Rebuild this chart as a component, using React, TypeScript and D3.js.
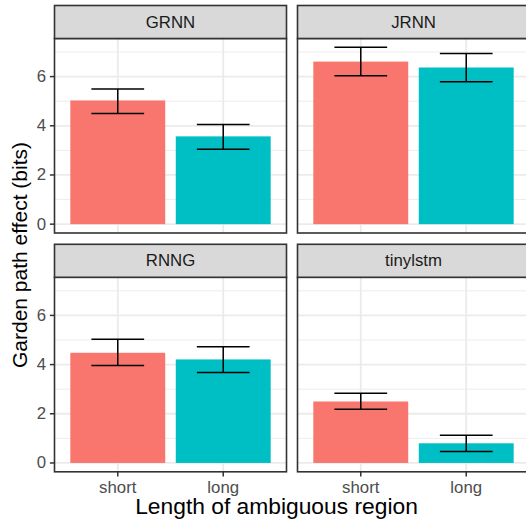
import React from "react";
import * as d3 from "d3";

const models = ["GRNN", "JRNN", "RNNG", "tinylstm"];
const conditions = ["short", "long"];
const shortMean = [5.03, 6.61, 4.48, 2.5];
const shortLower = [4.5, 6.03, 3.96, 2.18];
const shortUpper = [5.5, 7.19, 5.03, 2.83];
const longMean = [3.57, 6.37, 4.21, 0.8];
const longLower = [3.05, 5.79, 3.68, 0.47];
const longUpper = [4.05, 6.94, 4.73, 1.13];
const yTicks = [0, 2, 4, 6];
const yMinor = [1, 3, 5, 7];
const xTitle = "Length of ambiguous region";
const yTitle = "Garden path effect (bits)";

const W = 526;
const H = 524;
const colLeft = [54.5, 297.5];
const panelW = 232;
const stripTop = [5.5, 244.3];
const stripH = 33;
const panelH = 194.5;
const FONT = "'Liberation Sans', Arial, Helvetica, sans-serif";
const colors = ["#F8766D", "#00BFC4"];

export default function App() {
  const allUpper = shortUpper.concat(longUpper);
  const maxV = d3.max(allUpper) as number;
  const pad = maxV * 0.05;

  return (
    <svg
      width={W}
      height={H}
      style={{ position: "absolute", left: 0, top: 0, background: "#fff" }}
      fontFamily={FONT}
    >
      <rect x={0} y={0} width={W} height={H} fill="#fff" />
      {models.map((m, i) => {
        const col = i % 2;
        const row = Math.floor(i / 2);
        const left = colLeft[col];
        const sTop = stripTop[row];
        const pTop = sTop + stripH;
        const pBottom = pTop + panelH;
        const y = d3.scaleLinear().domain([0 - pad, maxV + pad]).range([pBottom, pTop]);
        const x = d3.scalePoint<string>().domain(conditions).range([left, left + panelW]).padding(0.6);
        const step = x.step();
        const bw = step * 0.9;
        const ew = step * 0.5;
        const means = [shortMean[i], longMean[i]];
        const lows = [shortLower[i], longLower[i]];
        const ups = [shortUpper[i], longUpper[i]];
        return (
          <g key={m}>
            <clipPath id={"clip" + i}>
              <rect x={left} y={pTop} width={panelW} height={panelH} />
            </clipPath>
            <g clipPath={`url(#clip${i})`}>
              {yMinor.map((t) => (
                <line key={"mn" + t} x1={left} x2={left + panelW} y1={y(t)} y2={y(t)} stroke="#EBEBEB" strokeWidth={0.9} />
              ))}
              {yTicks.map((t) => (
                <line key={"mj" + t} x1={left} x2={left + panelW} y1={y(t)} y2={y(t)} stroke="#EBEBEB" strokeWidth={1.8} />
              ))}
              {conditions.map((c) => (
                <line key={"vx" + c} x1={x(c)} x2={x(c)} y1={pTop} y2={pBottom} stroke="#EBEBEB" strokeWidth={1.8} />
              ))}
              {conditions.map((c, k) => (
                <rect
                  key={"bar" + c}
                  x={(x(c) as number) - bw / 2}
                  y={y(means[k])}
                  width={bw}
                  height={y(0) - y(means[k])}
                  fill={colors[k]}
                />
              ))}
              {conditions.map((c, k) => {
                const cx = x(c) as number;
                return (
                  <g key={"err" + c} stroke="#000" strokeWidth={1.5}>
                    <line x1={cx - ew / 2} x2={cx + ew / 2} y1={y(ups[k])} y2={y(ups[k])} />
                    <line x1={cx - ew / 2} x2={cx + ew / 2} y1={y(lows[k])} y2={y(lows[k])} />
                    <line x1={cx} x2={cx} y1={y(ups[k])} y2={y(lows[k])} />
                  </g>
                );
              })}
            </g>
            <rect x={left} y={pTop} width={panelW} height={panelH} fill="none" stroke="#333333" strokeWidth={1.6} />
            <rect x={left} y={sTop} width={panelW} height={stripH} fill="#D9D9D9" stroke="#333333" strokeWidth={1.6} />
            <text
              x={left + panelW / 2}
              y={sTop + stripH / 2}
              textAnchor="middle"
              dominantBaseline="central"
              fontSize={16.8}
              fill="#1A1A1A"
            >
              {m}
            </text>
            {col === 0 &&
              yTicks.map((t) => (
                <g key={"yt" + t}>
                  <line x1={left - 4.6} x2={left} y1={y(t)} y2={y(t)} stroke="#333333" strokeWidth={1.5} />
                  <text x={left - 8.5} y={y(t)} textAnchor="end" dominantBaseline="central" fontSize={16.8} fill="#4D4D4D">
                    {t}
                  </text>
                </g>
              ))}
            {row === 1 &&
              conditions.map((c) => (
                <g key={"xt" + c}>
                  <line x1={x(c)} x2={x(c)} y1={pBottom} y2={pBottom + 4.6} stroke="#333333" strokeWidth={1.5} />
                  <text x={x(c)} y={492.5} textAnchor="middle" fontSize={16.8} fill="#4D4D4D">
                    {c}
                  </text>
                </g>
              ))}
          </g>
        );
      })}
      <text x={276.5} y={513.5} textAnchor="middle" fontSize={22.8} fill="#000">
        {xTitle}
      </text>
      <text
        transform={`translate(26.7, 255) rotate(-90)`}
        textAnchor="middle"
        fontSize={21}
        fill="#000"
      >
        {yTitle}
      </text>
    </svg>
  );
}
